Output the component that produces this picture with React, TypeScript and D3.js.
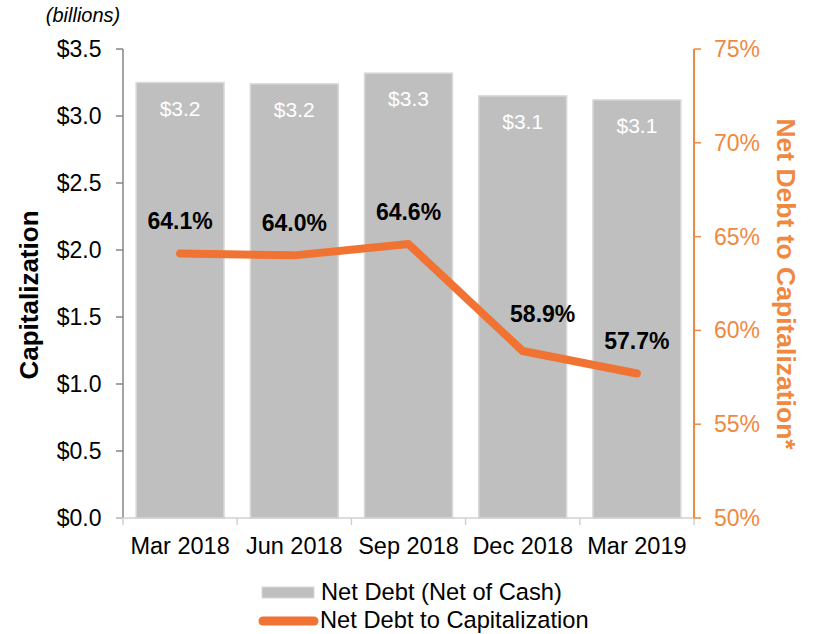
import React from "react";
import * as d3 from "d3";

const categories = ["Mar 2018", "Jun 2018", "Sep 2018", "Dec 2018", "Mar 2019"];
const netDebt = [3.25, 3.24, 3.32, 3.15, 3.12];
const netDebtLabels = ["$3.2", "$3.2", "$3.3", "$3.1", "$3.1"];
const ratio = [64.1, 64.0, 64.6, 58.9, 57.7];
const leftTicks = [0, 0.5, 1.0, 1.5, 2.0, 2.5, 3.0, 3.5];
const rightTicks = [50, 55, 60, 65, 70, 75];

// label placement tweaks (style, not data)
const labelDx = [0, 0, 0, 20, 0];
const labelDy = [-24, -24, -24, -29, -25];

const W = 813;
const H = 634;
const left = 123;
const right = 694;
const top = 49;
const bottom = 518;
const FONT = "'Liberation Sans', Arial, sans-serif";
const ORANGE = "#F0893F";
const LINE_ORANGE = "#F07333";
const FS = 23;

export default function App() {
  const x = d3.scaleBand<string>().domain(categories).range([left, right]).paddingInner(0.23).paddingOuter(0.115);
  const xc = d3.scalePoint<string>().domain(categories).range([left, right]).padding(0.5);
  const yL = d3.scaleLinear().domain([0, 3.5]).range([bottom, top]);
  const yR = d3.scaleLinear().domain([50, 75]).range([bottom, top]);
  const line = d3
    .line<number>()
    .x((_, i) => xc(categories[i]) as number)
    .y((d) => yR(d));
  const band = (right - left) / categories.length;
  const catTicks = d3.range(categories.length + 1).map((i) => left + i * band);

  return (
    <svg width={W} height={H} style={{ position: "absolute", left: 0, top: 0, background: "#fff" }} fontFamily={FONT}>
      {/* bars */}
      {netDebt.map((v, i) => (
        <g key={categories[i]}>
          <rect
            x={x(categories[i])}
            y={yL(v)}
            width={x.bandwidth()}
            height={yL(0) - yL(v)}
            fill="#BFBFBF"
            stroke="#D9D9D9"
            strokeWidth={1.5}
          />
          <text
            x={(x(categories[i]) as number) + x.bandwidth() / 2}
            y={yL(v) + 33}
            textAnchor="middle"
            fill="#fff"
            fontSize={21}
          >
            {netDebtLabels[i]}
          </text>
        </g>
      ))}

      {/* left axis */}
      <line x1={left} x2={left} y1={top} y2={bottom} stroke="#868686" strokeWidth={1.5} />
      {leftTicks.map((t) => (
        <g key={t}>
          <line x1={left - 7} x2={left} y1={yL(t)} y2={yL(t)} stroke="#868686" strokeWidth={1.5} />
          <text x={101.5} y={yL(t) + 8} textAnchor="end" fontSize={FS} fill="#000">
            {"$" + t.toFixed(1)}
          </text>
        </g>
      ))}

      {/* bottom axis */}
      <line x1={left - 7} x2={right} y1={bottom} y2={bottom} stroke="#D0D0D0" strokeWidth={1.5} />
      {catTicks.map((t, i) => (
        <line key={i} x1={t} x2={t} y1={bottom} y2={bottom + 7} stroke="#D0D0D0" strokeWidth={1.5} />
      ))}
      {categories.map((c) => (
        <text key={c} x={xc(c)} y={554} textAnchor="middle" fontSize={23.5} fill="#000">
          {c}
        </text>
      ))}

      {/* right axis */}
      <line x1={right} x2={right} y1={top} y2={bottom} stroke={ORANGE} strokeWidth={2} />
      {rightTicks.map((t) => (
        <g key={t}>
          <line x1={right} x2={right + 7} y1={yR(t)} y2={yR(t)} stroke={ORANGE} strokeWidth={1.5} />
          <text x={714} y={yR(t) + 8} textAnchor="start" fontSize={FS} fill={ORANGE}>
            {t + "%"}
          </text>
        </g>
      ))}

      {/* line */}
      <path
        d={line(ratio) || ""}
        fill="none"
        stroke={LINE_ORANGE}
        strokeWidth={8}
        strokeLinejoin="round"
        strokeLinecap="round"
      />
      {ratio.map((v, i) => (
        <text
          key={i}
          x={(xc(categories[i]) as number) + labelDx[i]}
          y={yR(v) + labelDy[i]}
          textAnchor="middle"
          fontSize={FS}
          fontWeight="bold"
          fill="#000"
        >
          {v.toFixed(1) + "%"}
        </text>
      ))}

      {/* titles */}
      <text x={83} y={22} textAnchor="middle" fontSize={20} fontStyle="italic" fill="#000">
        (billions)
      </text>
      <text
        transform={`translate(38, 295) rotate(-90)`}
        textAnchor="middle"
        fontSize={26}
        fontWeight="bold"
        fill="#000"
      >
        Capitalization
      </text>
      <text
        transform={`translate(777, 284) rotate(90)`}
        textAnchor="middle"
        fontSize={26.5}
        fontWeight="bold"
        fill={ORANGE}
      >
        Net Debt to Capitalization*
      </text>

      {/* legend */}
      <rect x={262} y={587} width={52} height={11} fill="#BFBFBF" stroke="#D9D9D9" strokeWidth={1} />
      <text x={321} y={599.5} fontSize={23.7} fill="#000">
        Net Debt (Net of Cash)
      </text>
      <line x1={263} x2={314} y1={621} y2={621} stroke={LINE_ORANGE} strokeWidth={9} strokeLinecap="round" />
      <text x={320} y={628} fontSize={23.7} fill="#000">
        Net Debt to Capitalization
      </text>
    </svg>
  );
}
